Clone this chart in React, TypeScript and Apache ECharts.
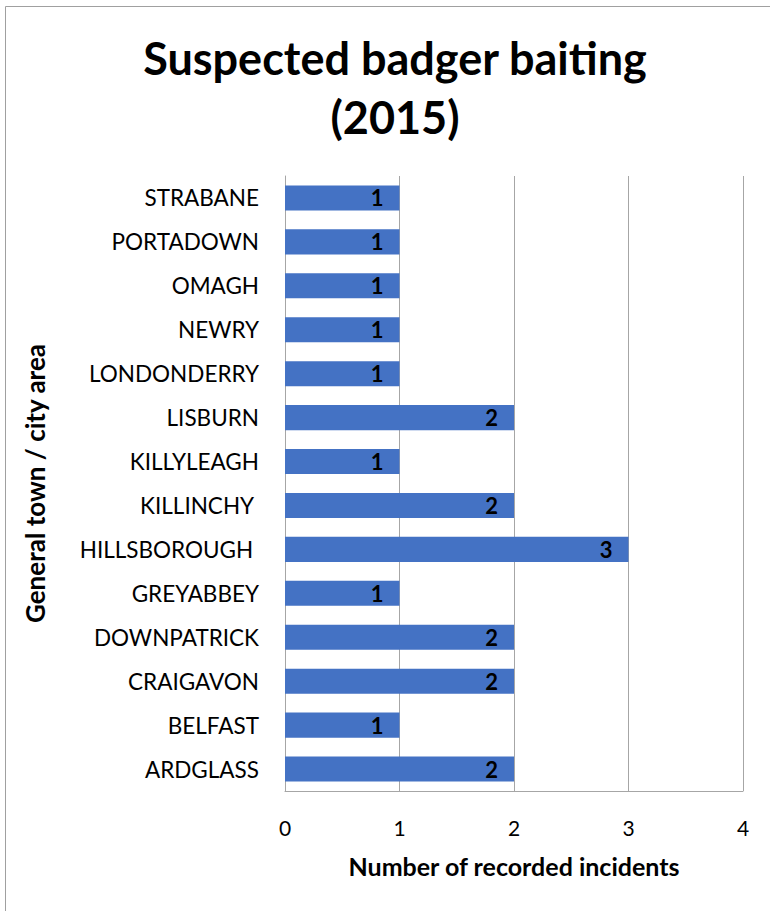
import React, { useEffect, useRef } from "react";
import * as echarts from "echarts";

// Areas listed top to bottom as they appear on the chart
const areas = [
  "STRABANE",
  "PORTADOWN",
  "OMAGH",
  "NEWRY",
  "LONDONDERRY",
  "LISBURN",
  "KILLYLEAGH",
  "KILLINCHY ",
  "HILLSBOROUGH ",
  "GREYABBEY",
  "DOWNPATRICK",
  "CRAIGAVON",
  "BELFAST",
  "ARDGLASS",
];
const incidents = [1, 1, 1, 1, 1, 2, 1, 2, 3, 1, 2, 2, 1, 2];
const xTicks = [0, 1, 2, 3, 4];

const FONT = "Lato, 'Open Sans', sans-serif";

export default function App() {
  const ref = useRef<HTMLDivElement>(null);

  useEffect(() => {
    document.body.style.margin = "0";
    const chart = echarts.init(ref.current!, null, { renderer: "svg" });
    chart.setOption({
      animation: false,
      backgroundColor: "#ffffff",
      textStyle: { fontFamily: FONT },
      title: {
        text: "Suspected badger baiting\n(2015)",
        left: 390,
        top: 23,
        textAlign: "center",
        textStyle: {
          fontFamily: FONT,
          fontSize: 45,
          fontWeight: "bold",
          color: "#000000",
          lineHeight: 59,
        },
      },
      graphic: [
        {
          type: "rect",
          shape: { x: 5.5, y: 6.5, width: 800, height: 1000 },
          style: { fill: "none", stroke: "#a0a0a0", lineWidth: 1 },
          silent: true,
          z: -1,
        },
      ],
      grid: {
        left: 285,
        right: 27,
        top: 176,
        bottom: 120,
        containLabel: false,
        outerBoundsMode: "none",
      },
      xAxis: {
        type: "value",
        min: xTicks[0],
        max: xTicks[xTicks.length - 1],
        interval: 1,
        name: "Number of recorded incidents",
        nameLocation: "middle",
        nameGap: 62,
        nameTextStyle: {
          fontFamily: FONT,
          fontSize: 25,
          fontWeight: "bold",
          color: "#000000",
        },
        axisLine: { show: true, lineStyle: { color: "#a6a6a6", width: 1 } },
        axisTick: { show: false },
        axisLabel: {
          margin: 26,
          fontFamily: FONT,
          fontSize: 21,
          color: "#000000",
        },
        splitLine: { show: true, lineStyle: { color: "#a6a6a6", width: 1 } },
      },
      yAxis: {
        type: "category",
        data: areas,
        inverse: true,
        name: "General town / city area",
        nameLocation: "middle",
        nameGap: 237,
        nameRotate: 90,
        nameTextStyle: {
          fontFamily: FONT,
          fontSize: 26,
          fontWeight: "bold",
          color: "#000000",
        },
        axisLine: { show: true, lineStyle: { color: "#a6a6a6", width: 1 } },
        axisTick: { show: false },
        axisLabel: {
          margin: 26,
          fontFamily: FONT,
          fontSize: 22.5,
          color: "#000000",
        },
        splitLine: { show: false },
      },
      series: [
        {
          type: "bar",
          data: incidents,
          barCategoryGap: "43%",
          itemStyle: { color: "#4472C4" },
          label: {
            show: true,
            position: "insideRight",
            distance: 16,
            fontFamily: FONT,
            fontSize: 22,
            fontWeight: "bold",
            color: "#000000",
          },
        },
      ],
    });
    return () => chart.dispose();
  }, []);

  return <div ref={ref} style={{ width: 770, height: 911 }} />;
}
